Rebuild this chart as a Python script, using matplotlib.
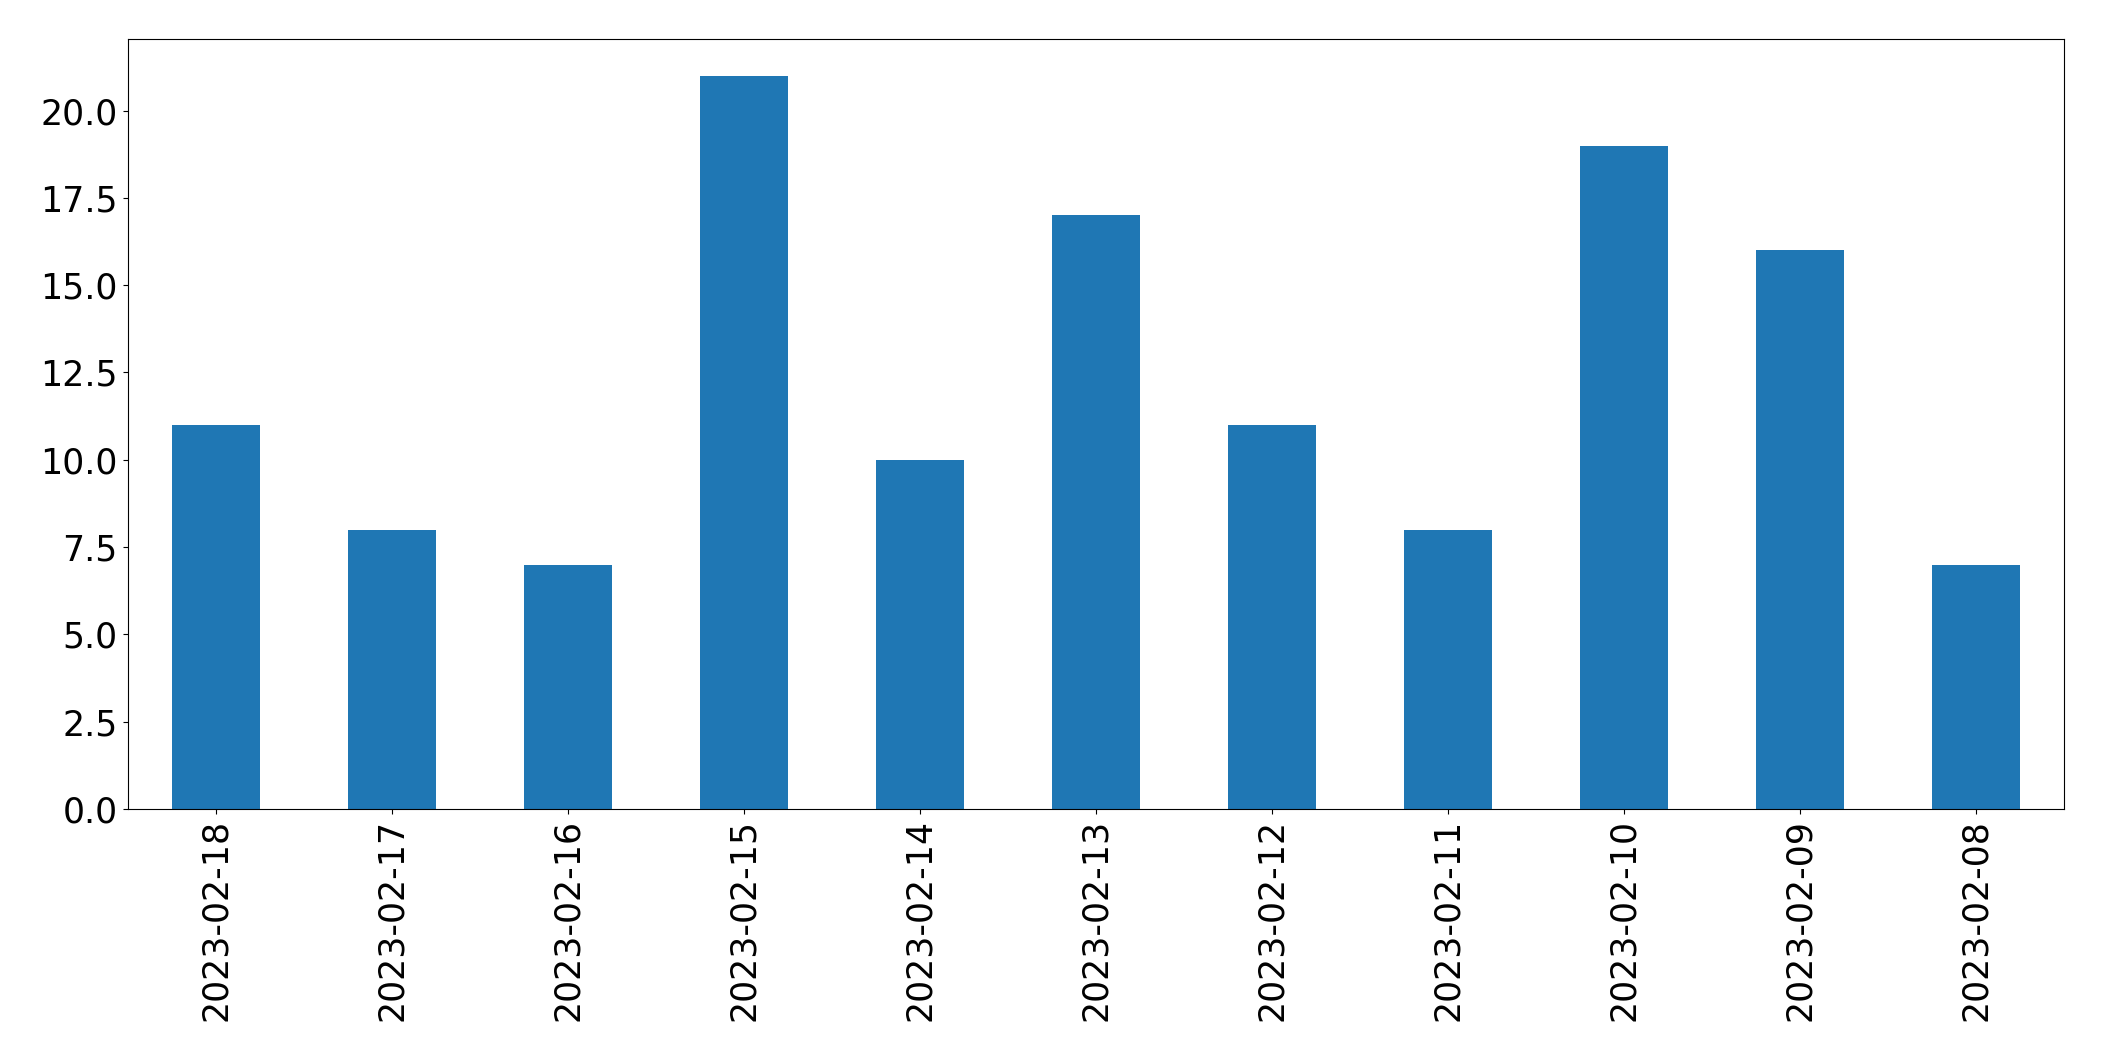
import matplotlib
matplotlib.use('Agg')
import matplotlib.pyplot as plt
import pandas as pd

dates = ['2023-02-18', '2023-02-17', '2023-02-16', '2023-02-15', '2023-02-14', '2023-02-13',
         '2023-02-12', '2023-02-11', '2023-02-10', '2023-02-09', '2023-02-08']
counts = [11, 8, 7, 21, 10, 17, 11, 8, 19, 16, 7]

s = pd.Series(counts, index=dates)

fig, ax = plt.subplots(figsize=(21.04, 10.61), dpi=100)
s.plot(kind='bar', ax=ax, color='#1f77b4', linewidth=0)
ax.tick_params(axis='both', labelsize=25)
fig.subplots_adjust(left=127.5/2104, right=2064/2104, top=1-39/1061, bottom=1-809/1061)
fig.savefig('out.png', dpi=100)
